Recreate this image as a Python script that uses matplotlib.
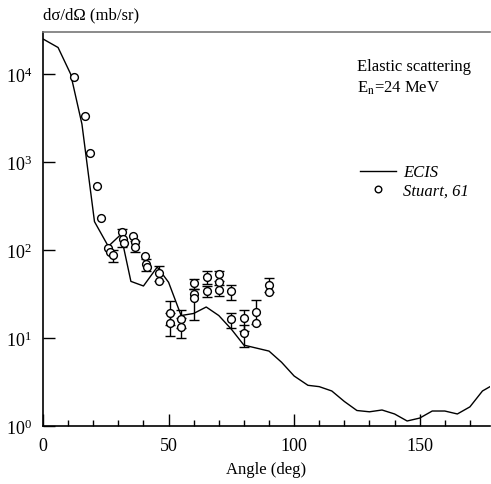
import numpy as np
import matplotlib.pyplot as plt
from matplotlib.ticker import MultipleLocator, LogLocator, LogFormatterMathtext, NullLocator

plt.rcParams['font.family'] = ['Liberation Serif', 'DejaVu Serif']
plt.rcParams['mathtext.fontset'] = 'stix'

# ECIS calculation
ecis_ang = [0, 6, 11, 15.5, 20.5, 26, 31, 35, 40, 45.5, 50, 55, 60, 65, 70, 75, 80,
            90, 95, 100, 105.5, 110, 115, 120, 125, 130, 135, 140, 145, 150, 155,
            160, 165, 170, 175, 178]
ecis_val = [25000, 20000, 10000, 2700, 210, 110, 150, 44, 39, 64, 43, 18, 19, 22.5,
            18, 12.6, 8.3, 7.1, 5.3, 3.7, 2.9, 2.8, 2.5, 1.9, 1.5, 1.45, 1.52, 1.37,
            1.14, 1.23, 1.48, 1.48, 1.37, 1.65, 2.5, 2.8]

# Stuart, 61 data (nan = no error bar)
exp_ang = [12.3, 16.7, 18.6, 21.4, 23.0, 26.0, 26.6, 27.8, 31.3, 31.8, 32.2, 35.7,
           36.8, 36.5, 40.5, 41.0, 41.5, 46, 46, 50.4, 50.4, 55, 55, 60, 60, 60,
           65.5, 65.5, 70, 70, 70, 75, 75, 80, 80, 85, 85, 90, 90]
exp_val = [9300, 3300, 1250, 530, 230, 105, 95, 88, 160, 135, 120, 145,
           124, 108, 86, 69, 64, 55, 45, 19, 15, 16.5, 13.4, 42, 32, 28.5,
           49, 34, 53, 43, 35, 34, 16.5, 17, 11.5, 20, 15, 40, 33]
exp_lo = [np.nan] * 7 + [73, 107, np.nan, np.nan, np.nan, np.nan, 95, np.nan, 58,
          np.nan, 45, np.nan, 14, 10.5, 13, 10, 36, np.nan, 16, 41, 29, 45, np.nan,
          30, 27, 13, 12, 8, 14.5, np.nan, 33, np.nan]
exp_hi = [np.nan] * 7 + [100, 173, np.nan, np.nan, np.nan, np.nan, 125, np.nan, 80,
          np.nan, 66, np.nan, 26, 19, 21, 17, 47, np.nan, 36, 58, 39, 58, np.nan,
          40, 40, 19, 21, 14, 27, np.nan, 48, np.nan]

fig = plt.figure(figsize=(4.91, 4.85), dpi=100)
ax = fig.add_axes([43 / 491, 58 / 485, 447 / 491, 394 / 485])

line, = ax.plot(ecis_ang, ecis_val, color='black', lw=1.0, label='ECIS')

a = np.array(exp_ang)
v = np.array(exp_val)
lo = np.array(exp_lo)
hi = np.array(exp_hi)
m = ~np.isnan(lo)
ax.errorbar(a[m], v[m], yerr=[v[m] - lo[m], hi[m] - v[m]], fmt='none',
            ecolor='black', elinewidth=1.0, capsize=3.5, capthick=1.0)
pts, = ax.plot(a, v, 'o', ms=5.6, mfc='white', mec='black', mew=1.0,
               label='Stuart, 61')

ax.set_yscale('log')
ax.set_xlim(0, 178)
ax.set_ylim(1, 3e4)

ax.yaxis.set_major_locator(LogLocator(base=10, numticks=10))
ax.yaxis.set_major_formatter(LogFormatterMathtext())
ax.yaxis.set_minor_locator(NullLocator())
ax.xaxis.set_major_locator(MultipleLocator(50))
ax.xaxis.set_minor_locator(MultipleLocator(10))
ax.tick_params(which='both', direction='in', top=False, right=False,
               labelsize=13, pad=8)
ax.tick_params(which='major', length=8.5, width=1.0)
ax.tick_params(which='minor', length=4.5, width=1.0)

ax.spines['right'].set_visible(False)
ax.spines['top'].set_color('#777777')
for s in ('left', 'bottom', 'top'):
    ax.spines[s].set_linewidth(1.2)

ax.set_xlabel('Angle (deg)', fontsize=12, labelpad=5)
ax.text(0, 1.025, 'd\u03c3/d\u03a9 (mb/sr)', transform=ax.transAxes,
        fontsize=12, ha='left', va='bottom')

ax.text(0.702, 0.914, 'Elastic scattering', transform=ax.transAxes,
        fontsize=12, ha='left', va='center')
ax.text(0.702, 0.86, r'E$_\mathrm{n}$=24 MeV', transform=ax.transAxes,
        fontsize=12, ha='left', va='center')

ax.legend(handles=[line, pts], loc='upper left', bbox_to_anchor=(0.69, 0.685),
          frameon=False, prop={'style': 'italic', 'size': 12},
          handlelength=2.2, handletextpad=0.4, labelspacing=0.15, borderpad=0,
          markerscale=0.85)

fig.savefig('out.png', dpi=100)
